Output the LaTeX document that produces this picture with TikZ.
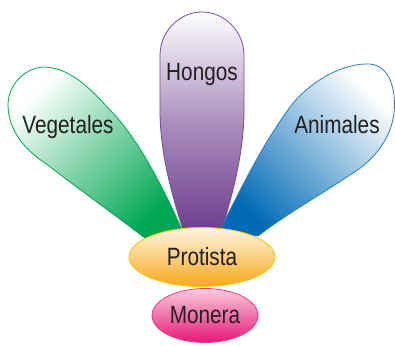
\documentclass[tikz,border=0pt]{standalone}
\usepackage{fontspec}
\setmainfont{Liberation Sans}[FakeStretch=0.83]
\usepackage{tikz}
\usetikzlibrary{shapes,positioning}

\definecolor{vegcolor}{RGB}{0,166,81}
\definecolor{hongcolor}{RGB}{107,58,140}
\definecolor{hongline}{RGB}{120,75,160}
\definecolor{anicolor}{RGB}{0,106,182}
\definecolor{aniline}{RGB}{40,125,200}
\definecolor{protop}{RGB}{254,246,225}
\definecolor{probot}{RGB}{247,168,28}
\definecolor{proline}{RGB}{250,200,0}
\definecolor{montop}{RGB}{249,205,220}
\definecolor{monbot}{RGB}{232,22,120}
\definecolor{monline}{RGB}{230,60,130}
\definecolor{textgray}{RGB}{35,31,32}

\begin{document}
\begin{tikzpicture}[x=1pt,y=-1pt,
			petal/.style={line width=.8pt},
			label node/.style={
				text=textgray, anchor=base, inner sep=0pt,
				font=\fontsize{25}{30}\selectfont},
			cell node/.style={
				ellipse, line width=.8pt, inner sep=0pt,
				text=textgray, font=\fontsize{25}{30}\selectfont}
			]
			\useasboundingbox (0,0) rectangle (395,345);
			
			% petals
			\path[petal, draw=vegcolor, top color=white, bottom color=vegcolor,
			middle color=vegcolor!50!white, shading angle=45]
			(183,232) .. controls (160,180) and (135,135) .. (110,110)
			.. controls (90,88) and (70,68) .. (45,67)
			.. controls (25,67) and (8,85) .. (8,105)
			.. controls (8,130) and (25,150) .. (45,163)
			.. controls (80,190) and (115,215) .. (145,238) -- cycle;
			\path[petal, draw=hongline, top color=white, bottom color=hongcolor,
			middle color=hongcolor!58!white]
			(185,236) .. controls (170,190) and (160,150) .. (160,110)
			-- (160,55) .. controls (160,32) and (179,12) .. (202,12)
			.. controls (225,12) and (244,32) .. (244,55)
			-- (244,110) .. controls (244,150) and (234,190) .. (220,236) -- cycle;
			\path[petal, draw=aniline, top color=white, bottom color=anicolor,
			middle color=anicolor!50!white, shading angle=-45]
			(220,230) .. controls (245,180) and (265,140) .. (293,103)
			.. controls (315,78) and (345,63) .. (370,64)
			.. controls (388,66) and (394.5,85) .. (394.5,105)
			.. controls (394.5,135) and (375,160) .. (350,175)
			.. controls (320,195) and (285,215) .. (258,236) -- cycle;
			
			\node[label node] (1) at (68,133) {Vegetales};
			\node[label node] (2) at (202,80) {Hongos};
			\node[label node] (3) at (337,133) {Animales};
			
			\node[cell node, draw=proline, top color=protop, bottom color=probot,
			minimum width=146pt, minimum height=59pt] (4) at (202,257) {Protista};
			\node[cell node, draw=monline, top color=montop, bottom color=monbot,
			minimum width=106pt, minimum height=54pt] (5) at (205,315.5) {Monera};
		\end{tikzpicture}
\end{document}
